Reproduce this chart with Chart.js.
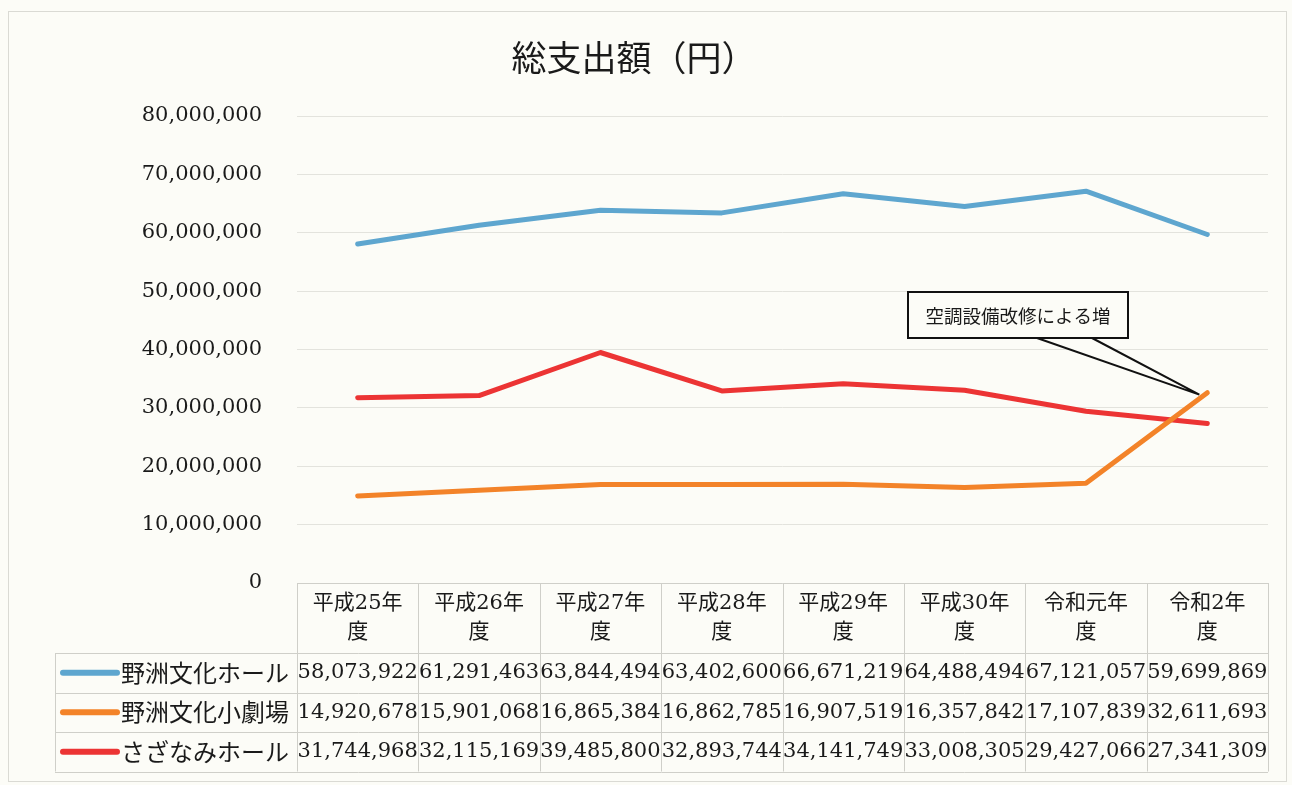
<!DOCTYPE html>
<html lang="ja">
<head>
<meta charset="utf-8">
<title>総支出額（円）</title>
<script src="https://cdn.jsdelivr.net/npm/chart.js@4.4.1/dist/chart.umd.min.js"></script>
<style>
  html, body { margin: 0; padding: 0; background: #fcfcf7; }
  #wrap { width: 1292px; height: 785px; position: relative; }
</style>
</head>
<body>
<div id="wrap"><canvas id="chart" width="1292" height="785"></canvas></div>
<script>
// 데이터
const chartTitle = '総支出額（円）';
const categories = ['平成25年度', '平成26年度', '平成27年度', '平成28年度', '平成29年度', '平成30年度', '令和元年度', '令和2年度'];
const seriesNames = ['野洲文化ホール', '野洲文化小劇場', 'さざなみホール'];
const bunkaHall = [58073922, 61291463, 63844494, 63402600, 66671219, 64488494, 67121057, 59699869];
const shoGekijo = [14920678, 15901068, 16865384, 16862785, 16907519, 16357842, 17107839, 32611693];
const sazanamiHall = [31744968, 32115169, 39485800, 32893744, 34141749, 33008305, 29427066, 27341309];
const yTicks = [0, 10000000, 20000000, 30000000, 40000000, 50000000, 60000000, 70000000, 80000000];
const seriesColors = ['#5ea6cf', '#f38329', '#ec3434'];
const calloutText = '空調設備改修による増';

const FONT_JP = '"Noto Sans CJK JP", sans-serif';
const FONT_NUM = '"DejaVu Serif", "Noto Sans CJK JP", serif';
const fmt = v => Number(v).toLocaleString('en-US');

// 외곽 프레임
const framePlugin = {
  id: 'frame',
  beforeDraw(chart) {
    const ctx = chart.ctx;
    ctx.save();
    ctx.strokeStyle = '#dadad4';
    ctx.lineWidth = 1;
    ctx.strokeRect(8.5, 11.5, 1278, 770);
    ctx.restore();
  }
};

// 데이터 테이블 (범례 포함)
const tablePlugin = {
  id: 'dataTable',
  afterDraw(chart) {
    const { ctx, chartArea: a, scales: { x } } = chart;
    const colW = (a.right - a.left) / categories.length;
    const rows = [bunkaHall, shoGekijo, sazanamiHall];
    const headTop = Math.round(a.bottom);
    const headBottom = headTop + 70;
    const rowH = 39.5;
    const legendLeft = 55;
    const tableBottom = headBottom + rowH * rows.length;
    const px = v => Math.round(v) + 0.5;

    ctx.save();
    ctx.strokeStyle = '#cfcfc9';
    ctx.lineWidth = 1;
    ctx.beginPath();
    ctx.moveTo(a.left, px(headTop)); ctx.lineTo(a.right, px(headTop));
    for (let r = 0; r <= rows.length; r++) {
      const y = px(headBottom + r * rowH);
      ctx.moveTo(legendLeft, y); ctx.lineTo(a.right, y);
    }
    for (let i = 0; i <= categories.length; i++) {
      const xx = px(a.left + i * colW);
      ctx.moveTo(xx, headTop); ctx.lineTo(xx, tableBottom);
    }
    ctx.moveTo(px(legendLeft), headBottom); ctx.lineTo(px(legendLeft), tableBottom);
    ctx.stroke();

    // 헤더 (연도)
    ctx.fillStyle = '#1a1a1a';
    ctx.textAlign = 'center';
    ctx.textBaseline = 'middle';
    ctx.font = '21px ' + FONT_NUM;
    categories.forEach((c, i) => {
      const cx = x.getPixelForValue(i);
      ctx.fillText(c.slice(0, -1), cx, headTop + 21);
      ctx.fillText(c.slice(-1), cx, headTop + 50);
    });

    // 값 + 범례
    rows.forEach((vals, r) => {
      const cy = headBottom + r * rowH + rowH / 2;
      ctx.strokeStyle = seriesColors[r];
      ctx.lineWidth = 6;
      ctx.lineCap = 'round';
      ctx.beginPath();
      ctx.moveTo(63, cy); ctx.lineTo(117, cy);
      ctx.stroke();

      ctx.textAlign = 'left';
      ctx.font = '24px ' + FONT_JP;
      ctx.fillText(seriesNames[r], 121, cy);

      ctx.textAlign = 'center';
      ctx.font = '21px ' + FONT_NUM;
      vals.forEach((v, i) => ctx.fillText(fmt(v), x.getPixelForValue(i), cy));
    });
    ctx.restore();
  }
};

// 설명 말풍선
const calloutPlugin = {
  id: 'callout',
  afterDatasetsDraw(chart) {
    const ctx = chart.ctx;
    const meta = chart.getDatasetMeta(1);
    const pt = meta.data[meta.data.length - 1];
    const tipX = pt.x - 8, tipY = pt.y + 2;
    const bx = 908, by = 292, bw = 220, bh = 46;
    ctx.save();
    ctx.fillStyle = '#fcfcf7';
    ctx.beginPath();
    ctx.moveTo(1037, by + bh); ctx.lineTo(tipX, tipY); ctx.lineTo(1092, by + bh);
    ctx.closePath();
    ctx.fill();
    ctx.strokeStyle = '#111';
    ctx.lineWidth = 2;
    ctx.beginPath();
    ctx.moveTo(1037, by + bh); ctx.lineTo(tipX, tipY); ctx.lineTo(1092, by + bh);
    ctx.stroke();
    ctx.fillRect(bx, by, bw, bh);
    ctx.strokeRect(bx, by, bw, bh);
    ctx.fillStyle = '#1a1a1a';
    ctx.font = '18.5px ' + FONT_JP;
    ctx.textAlign = 'center';
    ctx.textBaseline = 'middle';
    ctx.fillText(calloutText, bx + bw / 2, by + bh / 2 + 1);
    ctx.restore();
  }
};

const chart = new Chart(document.getElementById('chart'), {
  type: 'line',
  data: {
    labels: categories,
    datasets: [bunkaHall, shoGekijo, sazanamiHall].map((d, i) => ({
      label: seriesNames[i],
      data: d,
      borderColor: seriesColors[i],
      backgroundColor: seriesColors[i],
      borderWidth: 5,
      borderCapStyle: 'round',
      borderJoinStyle: 'round',
      pointRadius: 0,
      tension: 0,
      fill: false
    }))
  },
  options: {
    responsive: false,
    animation: false,
    layout: { padding: { left: 0, right: 24, top: 0, bottom: 202 } },
    plugins: {
      legend: { display: false },
      tooltip: { enabled: false },
      title: {
        display: true,
        text: chartTitle,
        color: '#1a1a1a',
        font: { family: FONT_JP, size: 35, weight: 'normal', lineHeight: 1.2 },
        padding: { top: 37, bottom: 37 }
      }
    },
    scales: {
      x: {
        offset: true,
        ticks: { display: false },
        grid: { display: false },
        border: { display: false },
        afterFit: s => { s.height = 0; }
      },
      y: {
        min: yTicks[0],
        max: yTicks[yTicks.length - 1],
        afterBuildTicks: s => { s.ticks = yTicks.map(v => ({ value: v })); },
        ticks: {
          padding: 35,
          color: '#1a1a1a',
          font: { family: FONT_NUM, size: 21 },
          callback: v => fmt(v)
        },
        grid: { color: '#e3e3dd', drawTicks: false },
        border: { display: false },
        afterFit: s => { s.width = 297; }
      }
    }
  },
  plugins: [framePlugin, tablePlugin, calloutPlugin]
});
</script>
</body>
</html>
